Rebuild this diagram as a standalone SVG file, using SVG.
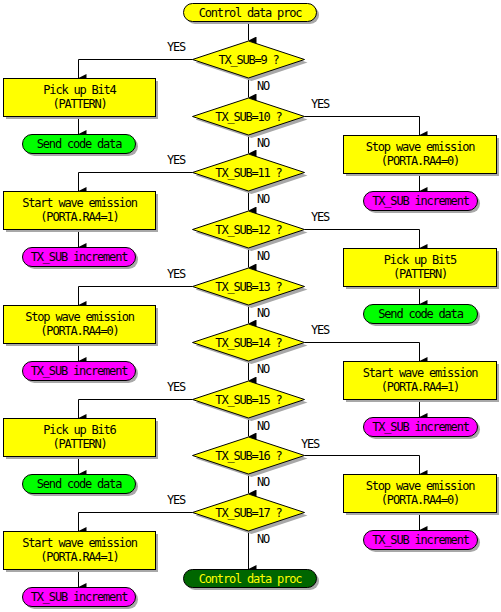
<svg xmlns="http://www.w3.org/2000/svg" width="501" height="612" viewBox="0 0 501 612">
<style>
text{font-family:"DejaVu Sans Mono","Liberation Mono",monospace;font-size:12px;letter-spacing:-1.2px;fill:#000}
.c{text-anchor:middle}
.sh{fill:#a8a8a8;stroke:none}
.y{fill:#ffff00;stroke:#000;stroke-width:1}
.g{fill:#00ff00;stroke:#000;stroke-width:1}
.m{fill:#ff00ff;stroke:#000;stroke-width:1}
.dg{fill:#006600;stroke:#000;stroke-width:1}
.ln{fill:none;stroke:#000;stroke-width:1}
.yt{fill:#ffff00}
</style>
<defs>
<marker id="ar" markerUnits="userSpaceOnUse" markerWidth="8" markerHeight="8" refX="3" refY="6" orient="auto-start-reverse" viewBox="0 0 6 6">
<path d="M0,0 L6,0 L3,6 z" fill="#000"/>
</marker>
<polygon id="dia" points="-56,0 0,-18.5 56,0 0,18.5"/>
</defs>
<rect width="501" height="612" fill="#fff"/>

<g id="connectors">
<path class="ln" d="M248.5,21 V40.5" marker-end="url(#ar)"/>
<path class="ln" d="M248.5,77.5 V97.5" marker-end="url(#ar)"/>
<path class="ln" d="M248.5,134.5 V153.5" marker-end="url(#ar)"/>
<path class="ln" d="M248.5,190.5 V210.5" marker-end="url(#ar)"/>
<path class="ln" d="M248.5,247.5 V267.5" marker-end="url(#ar)"/>
<path class="ln" d="M248.5,304.5 V323.5" marker-end="url(#ar)"/>
<path class="ln" d="M248.5,360.5 V380.5" marker-end="url(#ar)"/>
<path class="ln" d="M248.5,417.5 V436.5" marker-end="url(#ar)"/>
<path class="ln" d="M248.5,473.5 V493.5" marker-end="url(#ar)"/>
<path class="ln" d="M248.5,530.5 V569" marker-end="url(#ar)"/>

<path class="ln" d="M192.5,59.5 H78.5 V78" marker-end="url(#ar)"/>
<path class="ln" d="M78.5,116 V134" marker-end="url(#ar)"/>
<path class="ln" d="M304.5,116.5 H419.5 V135" marker-end="url(#ar)"/>
<path class="ln" d="M419.5,173 V191" marker-end="url(#ar)"/>
<path class="ln" d="M192.5,172.5 H78.5 V191" marker-end="url(#ar)"/>
<path class="ln" d="M78.5,229 V247" marker-end="url(#ar)"/>
<path class="ln" d="M304.5,229.5 H419.5 V248" marker-end="url(#ar)"/>
<path class="ln" d="M419.5,286 V304" marker-end="url(#ar)"/>
<path class="ln" d="M192.5,286.5 H78.5 V305" marker-end="url(#ar)"/>
<path class="ln" d="M78.5,343 V361" marker-end="url(#ar)"/>
<path class="ln" d="M304.5,342.5 H419.5 V361" marker-end="url(#ar)"/>
<path class="ln" d="M419.5,399 V417" marker-end="url(#ar)"/>
<path class="ln" d="M192.5,399.5 H78.5 V418" marker-end="url(#ar)"/>
<path class="ln" d="M78.5,456 V474" marker-end="url(#ar)"/>
<path class="ln" d="M304.5,455.5 H419.5 V474" marker-end="url(#ar)"/>
<path class="ln" d="M419.5,512 V530" marker-end="url(#ar)"/>
<path class="ln" d="M192.5,512.5 H78.5 V531" marker-end="url(#ar)"/>
<path class="ln" d="M78.5,569 V587" marker-end="url(#ar)"/>

<text x="167" y="51">YES</text>
<text x="311" y="108">YES</text>
<text x="167" y="164">YES</text>
<text x="311" y="221">YES</text>
<text x="167" y="278">YES</text>
<text x="311" y="334">YES</text>
<text x="167" y="391">YES</text>
<text x="301" y="448">YES</text>
<text x="167" y="504">YES</text>
<text x="257" y="90">NO</text>
<text x="257" y="147">NO</text>
<text x="257" y="203">NO</text>
<text x="257" y="260">NO</text>
<text x="257" y="317">NO</text>
<text x="257" y="373">NO</text>
<text x="257" y="430">NO</text>
<text x="257" y="486">NO</text>
<text x="257" y="543">NO</text>
</g>

<g id="start">
<rect class="sh" x="186" y="6" width="133" height="18" rx="9"/>
<rect class="y" x="183.5" y="3.5" width="133" height="18" rx="9"/>
<text class="c" x="250" y="16.5">Control data proc</text>
</g>

<g id="d9"><use href="#dia" class="sh" x="251.5" y="62.5"/><use href="#dia" class="y" x="248.5" y="59.5"/><text class="c" x="248.5" y="63.5">TX_SUB=9 ?</text></g>
<g id="d10"><use href="#dia" class="sh" x="251.5" y="119.5"/><use href="#dia" class="y" x="248.5" y="116.5"/><text class="c" x="248.5" y="120.5">TX_SUB=10 ?</text></g>
<g id="d11"><use href="#dia" class="sh" x="251.5" y="175.5"/><use href="#dia" class="y" x="248.5" y="172.5"/><text class="c" x="248.5" y="176.5">TX_SUB=11 ?</text></g>
<g id="d12"><use href="#dia" class="sh" x="251.5" y="232.5"/><use href="#dia" class="y" x="248.5" y="229.5"/><text class="c" x="248.5" y="233.5">TX_SUB=12 ?</text></g>
<g id="d13"><use href="#dia" class="sh" x="251.5" y="289.5"/><use href="#dia" class="y" x="248.5" y="286.5"/><text class="c" x="248.5" y="290.5">TX_SUB=13 ?</text></g>
<g id="d14"><use href="#dia" class="sh" x="251.5" y="345.5"/><use href="#dia" class="y" x="248.5" y="342.5"/><text class="c" x="248.5" y="346.5">TX_SUB=14 ?</text></g>
<g id="d15"><use href="#dia" class="sh" x="251.5" y="402.5"/><use href="#dia" class="y" x="248.5" y="399.5"/><text class="c" x="248.5" y="403.5">TX_SUB=15 ?</text></g>
<g id="d16"><use href="#dia" class="sh" x="251.5" y="458.5"/><use href="#dia" class="y" x="248.5" y="455.5"/><text class="c" x="248.5" y="459.5">TX_SUB=16 ?</text></g>
<g id="d17"><use href="#dia" class="sh" x="251.5" y="515.5"/><use href="#dia" class="y" x="248.5" y="512.5"/><text class="c" x="248.5" y="516.5">TX_SUB=17 ?</text></g>

<g id="b9"><rect class="sh" x="6" y="81" width="152" height="38"/><rect class="y" x="3.5" y="78.5" width="152" height="38"/><text class="c" x="79.5" y="94">Pick up Bit4</text><text class="c" x="79.5" y="108">(PATTERN)</text></g>
<g id="t9"><rect class="sh" x="25" y="137" width="113" height="19" rx="9.5"/><rect class="g" x="22.5" y="134.5" width="113" height="19" rx="9.5"/><text class="c" x="79" y="148">Send code data</text></g>

<g id="b10"><rect class="sh" x="346" y="138" width="153" height="38"/><rect class="y" x="343.5" y="135.5" width="153" height="38"/><text class="c" x="420" y="151">Stop wave emission</text><text class="c" x="420" y="165">(PORTA.RA4=0)</text></g>
<g id="t10"><rect class="sh" x="366" y="194" width="114" height="19" rx="9.5"/><rect class="m" x="363.5" y="191.5" width="114" height="19" rx="9.5"/><text class="c" x="420.5" y="205">TX_SUB increment</text></g>

<g id="b11"><rect class="sh" x="6" y="194" width="152" height="38"/><rect class="y" x="3.5" y="191.5" width="152" height="38"/><text class="c" x="79.5" y="207">Start wave emission</text><text class="c" x="79.5" y="221">(PORTA.RA4=1)</text></g>
<g id="t11"><rect class="sh" x="25" y="250" width="113" height="19" rx="9.5"/><rect class="m" x="22.5" y="247.5" width="113" height="19" rx="9.5"/><text class="c" x="79" y="261">TX_SUB increment</text></g>

<g id="b12"><rect class="sh" x="346" y="251" width="153" height="38"/><rect class="y" x="343.5" y="248.5" width="153" height="38"/><text class="c" x="420" y="264">Pick up Bit5</text><text class="c" x="420" y="278">(PATTERN)</text></g>
<g id="t12"><rect class="sh" x="366" y="307" width="114" height="19" rx="9.5"/><rect class="g" x="363.5" y="304.5" width="114" height="19" rx="9.5"/><text class="c" x="420.5" y="318">Send code data</text></g>

<g id="b13"><rect class="sh" x="6" y="308" width="152" height="38"/><rect class="y" x="3.5" y="305.5" width="152" height="38"/><text class="c" x="79.5" y="321">Stop wave emission</text><text class="c" x="79.5" y="335">(PORTA.RA4=0)</text></g>
<g id="t13"><rect class="sh" x="25" y="364" width="113" height="19" rx="9.5"/><rect class="m" x="22.5" y="361.5" width="113" height="19" rx="9.5"/><text class="c" x="79" y="375">TX_SUB increment</text></g>

<g id="b14"><rect class="sh" x="346" y="364" width="153" height="38"/><rect class="y" x="343.5" y="361.5" width="153" height="38"/><text class="c" x="420" y="377">Start wave emission</text><text class="c" x="420" y="391">(PORTA.RA4=1)</text></g>
<g id="t14"><rect class="sh" x="366" y="420" width="114" height="19" rx="9.5"/><rect class="m" x="363.5" y="417.5" width="114" height="19" rx="9.5"/><text class="c" x="420.5" y="431">TX_SUB increment</text></g>

<g id="b15"><rect class="sh" x="6" y="421" width="152" height="38"/><rect class="y" x="3.5" y="418.5" width="152" height="38"/><text class="c" x="79.5" y="434">Pick up Bit6</text><text class="c" x="79.5" y="448">(PATTERN)</text></g>
<g id="t15"><rect class="sh" x="25" y="477" width="113" height="19" rx="9.5"/><rect class="g" x="22.5" y="474.5" width="113" height="19" rx="9.5"/><text class="c" x="79" y="488">Send code data</text></g>

<g id="b16"><rect class="sh" x="346" y="477" width="153" height="38"/><rect class="y" x="343.5" y="474.5" width="153" height="38"/><text class="c" x="420" y="490">Stop wave emission</text><text class="c" x="420" y="504">(PORTA.RA4=0)</text></g>
<g id="t16"><rect class="sh" x="366" y="533" width="114" height="19" rx="9.5"/><rect class="m" x="363.5" y="530.5" width="114" height="19" rx="9.5"/><text class="c" x="420.5" y="544">TX_SUB increment</text></g>

<g id="b17"><rect class="sh" x="6" y="534" width="152" height="38"/><rect class="y" x="3.5" y="531.5" width="152" height="38"/><text class="c" x="79.5" y="547">Start wave emission</text><text class="c" x="79.5" y="561">(PORTA.RA4=1)</text></g>
<g id="t17"><rect class="sh" x="25" y="590" width="113" height="19" rx="9.5"/><rect class="m" x="22.5" y="587.5" width="113" height="19" rx="9.5"/><text class="c" x="79" y="601">TX_SUB increment</text></g>

<g id="end">
<rect class="sh" x="186" y="572" width="133" height="18" rx="9"/>
<rect class="dg" x="183.5" y="569.5" width="133" height="18" rx="9"/>
<text class="c yt" x="250" y="582.5">Control data proc</text>
</g>
</svg>
